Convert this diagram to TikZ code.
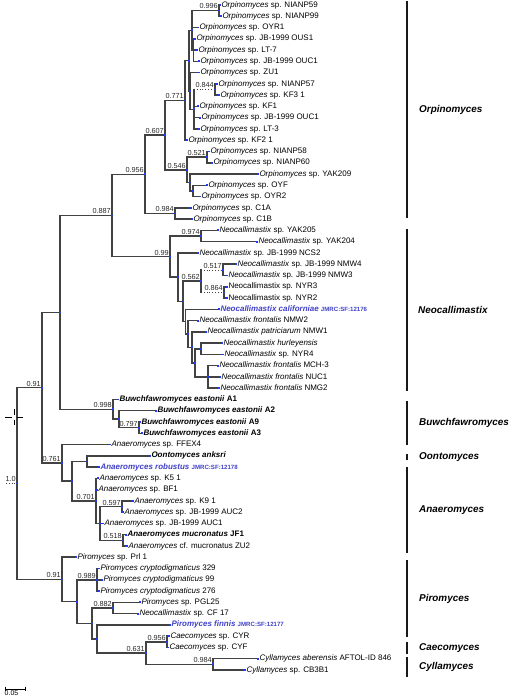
\documentclass[tikz,border=0pt]{standalone}
\usepackage{fontspec}
\setmainfont{Liberation Sans}
\usetikzlibrary{calc}
\definecolor{brc}{RGB}{66,66,66}
\definecolor{hl}{RGB}{64,64,200}
\definecolor{mkc}{RGB}{30,60,255}
\definecolor{supc}{RGB}{40,40,40}
\definecolor{barc}{RGB}{25,25,25}
\newcommand\brn[2]{\draw[brl] (#1) |- (#2);}
\newcommand\brd[2]{\draw[brl] (#1) -- (#1 |- #2); \draw[brdot] (#1 |- #2) -- (#2);}
\newcommand\jm[1]{{\fontsize{6.1}{7}\selectfont\bfseries\upshape #1}}
\begin{document}
\begin{tikzpicture}[x=1pt,y=-1pt,
  brl/.style={draw=brc,line width=1.5pt,line cap=rect},
  brdot/.style={draw=brc,line width=0.8pt,dotted},
  leaf/.style={anchor=west,inner xsep=1.3pt,inner ysep=0pt,text height=6pt,text depth=1.7pt,font=\fontsize{8.0}{9}\selectfont},
  sup/.style={anchor=base east,inner sep=0pt,xshift=-1pt,yshift=1.6pt,font=\fontsize{7.3}{8}\selectfont,text=supc},
  genus/.style={anchor=west,inner sep=0pt,font=\fontsize{9.9}{11}\selectfont\bfseries\itshape},
  bar/.style={draw=barc,line width=2.2pt},
  hlt/.style={text=hl}]
\path[use as bounding box] (0,0) rectangle (516,700);
% internal nodes
\coordinate (root) at (17,483.5);
\coordinate (rs) at (6,483.5);
\coordinate (A) at (42,387.6);
\coordinate (B) at (60,312.4);
\coordinate (C) at (112,215.5);
\coordinate (Or) at (145,174.4);
\coordinate (N607) at (165,135.2);
\coordinate (N771) at (185,100.5);
\coordinate (NX) at (189,60.7);
\coordinate (NY) at (192,30.4);
\coordinate (N996) at (219,10.6);
\coordinate (NY2) at (193.5,50.1);
\coordinate (NW) at (190,91);
\coordinate (NZ) at (194,109.3);
\coordinate (N844) at (215,89.5);
\coordinate (N546) at (187,169.9);
\coordinate (N521) at (207,157.2);
\coordinate (Noy) at (190,182.5);
\coordinate (Noo) at (193,191);
\coordinate (N984) at (175,213.5);
\coordinate (Ne) at (170,256.6);
\coordinate (N974) at (201,236);
\coordinate (NR) at (178,277.2);
\coordinate (NR2) at (183,301.4);
\coordinate (N562) at (201,281.2);
\coordinate (N517) at (223,269.9);
\coordinate (N864) at (224,292.4);
\coordinate (NR3) at (185.5,321.6);
\coordinate (NR4) at (188,334);
\coordinate (NR5) at (192,347.3);
\coordinate (NR6) at (195,362.8);
\coordinate (Nhu) at (201,348.8);
\coordinate (Nfr) at (208,376.9);
\coordinate (Bu) at (113,409.3);
\coordinate (Nb2) at (119,419.2);
\coordinate (N797) at (139,427.6);
\coordinate (An) at (62,462.9);
\coordinate (Na2) at (72,481.2);
\coordinate (Noo2) at (87,461.5);
\coordinate (N701) at (96,500.9);
\coordinate (Na3) at (100,523.5);
\coordinate (N597) at (122,506.6);
\coordinate (N518) at (123,540.4);
\coordinate (P0) at (62,579.4);
\coordinate (P1) at (77,601.6);
\coordinate (Pcr) at (97,579.8);
\coordinate (P2) at (92,623.5);
\coordinate (N882) at (113,608);
\coordinate (P3) at (97,638.9);
\coordinate (N631) at (146,653);
\coordinate (N956) at (167,641.8);
\coordinate (N984b) at (213,664.3);
% leaves
\node[leaf] (L1) at (220,5.0) {\textit{Orpinomyces} sp. NIANP59};
\node[leaf] (L2) at (221,16.3) {\textit{Orpinomyces} sp. NIANP99};
\node[leaf] (L3) at (198,27.5) {\textit{Orpinomyces} sp. OYR1};
\node[leaf] (L4) at (195,38.8) {\textit{Orpinomyces} sp. JB-1999 OUS1};
\node[leaf] (L5) at (197,50.1) {\textit{Orpinomyces} sp. LT-7};
\node[leaf] (L6) at (199,61.4) {\textit{Orpinomyces} sp. JB-1999 OUC1};
\node[leaf] (L7) at (199,72.6) {\textit{Orpinomyces} sp. ZU1};
\node[leaf] (L8) at (217,83.9) {\textit{Orpinomyces} sp. NIANP57};
\node[leaf] (L9) at (219,95.2) {\textit{Orpinomyces} sp. KF3 1};
\node[leaf] (L10) at (198,106.4) {\textit{Orpinomyces} sp. KF1};
\node[leaf] (L11) at (200,117.7) {\textit{Orpinomyces} sp. JB-1999 OUC1};
\node[leaf] (L12) at (199,129.0) {\textit{Orpinomyces} sp. LT-3};
\node[leaf] (L13) at (187,140.2) {\textit{Orpinomyces} sp. KF2 1};
\node[leaf] (L14) at (209,151.5) {\textit{Orpinomyces} sp. NIANP58};
\node[leaf] (L15) at (212,162.8) {\textit{Orpinomyces} sp. NIANP60};
\node[leaf] (L16) at (258,174.1) {\textit{Orpinomyces} sp. YAK209};
\node[leaf] (L17) at (207,185.3) {\textit{Orpinomyces} sp. OYF};
\node[leaf] (L18) at (200,196.6) {\textit{Orpinomyces} sp. OYR2};
\node[leaf] (L19) at (191,207.9) {\textit{Orpinomyces} sp. C1A};
\node[leaf] (L20) at (192,219.1) {\textit{Orpinomyces} sp. C1B};
\node[leaf] (L21) at (218,230.4) {\textit{Neocallimastix} sp. YAK205};
\node[leaf] (L22) at (257,241.7) {\textit{Neocallimastix} sp. YAK204};
\node[leaf] (L23) at (198,253.0) {\textit{Neocallimastix} sp. JB-1999 NCS2};
\node[leaf] (L24) at (236,264.2) {\textit{Neocallimastix} sp. JB-1999 NMW4};
\node[leaf] (L25) at (227,275.5) {\textit{Neocallimastix} sp. JB-1999 NMW3};
\node[leaf] (L26) at (227,286.8) {Neocallimastix sp. NYR3};
\node[leaf] (L27) at (227,298.0) {Neocallimastix sp. NYR2};
\node[leaf,hlt] (L28) at (219,309.3) {\textbf{\textit{Neocallimastix californiae}} \jm{JMRC:SF:12176}};
\node[leaf] (L29) at (198,320.6) {\textit{Neocallimastix frontalis} NMW2};
\node[leaf] (L30) at (206,331.8) {\textit{Neocallimastix patriciarum} NMW1};
\node[leaf] (L31) at (222,343.1) {\textit{Neocallimastix hurleyensis}};
\node[leaf] (L32) at (223,354.4) {\textit{Neocallimastix} sp. NYR4};
\node[leaf] (L33) at (218,365.6) {\textit{Neocallimastix frontalis} MCH-3};
\node[leaf] (L34) at (220,376.9) {\textit{Neocallimastix frontalis} NUC1};
\node[leaf] (L35) at (219,388.2) {\textit{Neocallimastix frontalis} NMG2};
\node[leaf] (L36) at (118,399.5) {\textbf{\textit{Buwchfawromyces eastonii} A1}};
\node[leaf] (L37) at (156,410.7) {\textbf{\textit{Buwchfawromyces eastonii} A2}};
\node[leaf] (L38) at (140,422.0) {\textbf{\textit{Buwchfawromyces eastonii} A9}};
\node[leaf] (L39) at (142,433.3) {\textbf{\textit{Buwchfawromyces eastonii} A3}};
\node[leaf] (L40) at (110,444.5) {\textit{Anaeromyces} sp. FFEX4};
\node[leaf] (L41) at (150,455.8) {\textbf{\textit{Oontomyces anksri}}};
\node[leaf,hlt] (L42) at (99,467.1) {\textbf{\textit{Anaeromyces robustus}} \jm{JMRC:SF:12178}};
\node[leaf] (L43) at (98,478.3) {\textit{Anaeromyces} sp. K5 1};
\node[leaf] (L44) at (97,489.6) {\textit{Anaeromyces} sp. BF1};
\node[leaf] (L45) at (133,500.9) {\textit{Anaeromyces} sp. K9 1};
\node[leaf] (L46) at (123,512.2) {\textit{Anaeromyces} sp. JB-1999 AUC2};
\node[leaf] (L47) at (103,523.4) {\textit{Anaeromyces} sp. JB-1999 AUC1};
\node[leaf] (L48) at (126,534.7) {\textbf{\textit{Anaeromyces mucronatus} JF1}};
\node[leaf] (L49) at (127,546.0) {\textit{Anaeromyces} cf. mucronatus ZU2};
\node[leaf] (L50) at (76,557.2) {\textit{Piromyces} sp. Prl 1};
\node[leaf] (L51) at (99,568.5) {\textit{Piromyces cryptodigmaticus} 329};
\node[leaf] (L52) at (102,579.8) {\textit{Piromyces cryptodigmaticus} 99};
\node[leaf] (L53) at (99,591.0) {\textit{Piromyces cryptodigmaticus} 276};
\node[leaf] (L54) at (140,602.3) {\textit{Piromyces} sp. PGL25};
\node[leaf] (L55) at (138,613.6) {\textit{Neocallimastix} sp. CF 17};
\node[leaf,hlt] (L56) at (170,624.8) {\textbf{\textit{Piromyces finnis}} \jm{JMRC:SF:12177}};
\node[leaf] (L57) at (169,636.1) {\textit{Caecomyces} sp. CYR};
\node[leaf] (L58) at (168,647.4) {\textit{Caecomyces} sp. CYF};
\node[leaf] (L59) at (258,658.7) {\textit{Cyllamyces aberensis} AFTOL-ID 846};
\node[leaf] (L60) at (245,669.9) {\textit{Cyllamyces} sp. CB3B1};
% branches
\draw[brdot] (rs) -- (root);
\brn{root}{A}\brn{root}{P0}
\brn{A}{B}\brn{A}{An}
\brn{B}{C}\brn{B}{Bu}
\brn{C}{Or}\brn{C}{Ne}
\brn{Or}{N607}\brn{Or}{N984}
\brn{N607}{N771}\brn{N607}{N546}
\brn{N771}{NX}\brn{N771}{L13.west}
\brn{NX}{NY}\brn{NX}{NW}
\brn{NY}{N996}\brn{NY}{L3.west}\brn{NY}{NY2}
\brn{N996}{L1.west}\brn{N996}{L2.west}
\brn{NY2}{L4.west}\brn{NY2}{L5.west}\brn{NY2}{L6.west}
\brn{NW}{L7.west}\brn{NW}{NZ}
\brd{NZ}{N844}\brn{NZ}{L10.west}\brn{NZ}{L11.west}\brn{NZ}{L12.west}
\brn{N844}{L8.west}\brn{N844}{L9.west}
\brn{N546}{N521}\brn{N546}{Noy}
\brn{N521}{L14.west}\brn{N521}{L15.west}
\brn{Noy}{L16.west}\brn{Noy}{Noo}
\brn{Noo}{L17.west}\brn{Noo}{L18.west}
\brn{N984}{L19.west}\brn{N984}{L20.west}
\brn{Ne}{N974}\brn{Ne}{NR}
\brn{N974}{L21.west}\brn{N974}{L22.west}
\brn{NR}{L23.west}\brn{NR}{NR2}
\brn{NR2}{N562}\brn{NR2}{NR3}
\brd{N562}{N517}\brd{N562}{N864}
\brn{N517}{L24.west}\brn{N517}{L25.west}
\brn{N864}{L26.west}\brn{N864}{L27.west}
\brn{NR3}{L28.west}\brn{NR3}{NR4}
\brn{NR4}{L29.west}\brn{NR4}{NR5}
\brn{NR5}{L30.west}\brn{NR5}{NR6}
\brn{NR6}{Nhu}\brn{NR6}{Nfr}
\brn{Nhu}{L31.west}\brn{Nhu}{L32.west}
\brn{Nfr}{L33.west}\brn{Nfr}{L34.west}\brn{Nfr}{L35.west}
\brn{Bu}{L36.west}\brn{Bu}{Nb2}
\brn{Nb2}{L37.west}\brn{Nb2}{N797}
\brn{N797}{L38.west}\brn{N797}{L39.west}
\brn{An}{L40.west}\brn{An}{Na2}
\brn{Na2}{Noo2}\brn{Na2}{N701}
\brn{Noo2}{L41.west}\brn{Noo2}{L42.west}
\brn{N701}{L43.west}\brn{N701}{L44.west}\brn{N701}{Na3}
\brn{Na3}{N597}\brn{Na3}{L47.west}\brn{Na3}{N518}
\brn{N597}{L45.west}\brn{N597}{L46.west}
\brn{N518}{L48.west}\brn{N518}{L49.west}
\brn{P0}{L50.west}\brn{P0}{P1}
\brn{P1}{Pcr}\brn{P1}{P2}
\brn{Pcr}{L51.west}\brn{Pcr}{L52.west}\brn{Pcr}{L53.west}
\brn{P2}{N882}\brn{P2}{P3}
\brn{N882}{L54.west}\brn{N882}{L55.west}
\brn{P3}{L56.west}\brn{P3}{N631}
\brn{N631}{N956}\brn{N631}{N984b}
\brn{N956}{L57.west}\brn{N956}{L58.west}
\brn{N984b}{L59.west}\brn{N984b}{L60.west}
% node marks
\foreach \n in {root,A,B,C,Or,N607,N771,NX,NY,N996,NY2,NW,NZ,N844,N546,N521,Noy,Noo,N984,Ne,N974,NR,NR2,N562,N517,N864,NR3,NR4,NR5,NR6,Nhu,Nfr,Bu,Nb2,N797,An,Na2,Noo2,N701,Na3,N597,N518,P0,P1,Pcr,P2,N882,P3,N631,N956,N984b}
  \fill[mkc] ($(\n)+(-0.9,-0.9)$) rectangle ++(1.8,1.8);
\foreach \i in {1,...,60}
  \fill[mkc] ($(L\i.west)+(-0.9,-0.9)$) rectangle ++(1.8,1.8);
% support values
\node[sup] (s1) at (root) {1.0};
\node[sup] (s2) at (A) {0.91};
\node[sup] (s3) at (C) {0.887};
\node[sup] (s4) at (Or) {0.956};
\node[sup] (s5) at (N607) {0.607};
\node[sup] (s6) at (N771) {0.771};
\node[sup] (s7) at (N996) {0.996};
\node[sup] (s8) at (N844) {0.844};
\node[sup] (s9) at (N546) {0.546};
\node[sup] (s10) at (N521) {0.521};
\node[sup] (s11) at (N984) {0.984};
\node[sup] (s12) at (Ne) {0.99};
\node[sup] (s13) at (N974) {0.974};
\node[sup] (s14) at (N562) {0.562};
\node[sup] (s15) at (N517) {0.517};
\node[sup] (s16) at (N864) {0.864};
\node[sup] (s17) at (Bu) {0.998};
\node[sup] (s18) at (N797) {0.797};
\node[sup] (s19) at (An) {0.761};
\node[sup] (s20) at (N701) {0.701};
\node[sup] (s21) at (N597) {0.597};
\node[sup] (s22) at (N518) {0.518};
\node[sup] (s23) at (P0) {0.91};
\node[sup] (s24) at (Pcr) {0.989};
\node[sup] (s25) at (N882) {0.882};
\node[sup] (s26) at (N631) {0.631};
\node[sup] (s27) at (N956) {0.956};
\node[sup] (s28) at (N984b) {0.984};
% genus bars
\coordinate (g1a) at (407,1); \coordinate (g1b) at (407,218);
\coordinate (g2a) at (407,229); \coordinate (g2b) at (407,391);
\coordinate (g3a) at (407,401); \coordinate (g3b) at (407,445);
\coordinate (g4a) at (407,454); \coordinate (g4b) at (407,460);
\coordinate (g5a) at (407,467); \coordinate (g5b) at (407,553);
\coordinate (g6a) at (407,560); \coordinate (g6b) at (407,637);
\coordinate (g7a) at (407,642); \coordinate (g7b) at (407,654);
\coordinate (g8a) at (407,657); \coordinate (g8b) at (407,677);
\draw[bar] (g1a) -- (g1b); \draw[bar] (g2a) -- (g2b);
\draw[bar] (g3a) -- (g3b); \draw[bar] (g4a) -- (g4b);
\draw[bar] (g5a) -- (g5b); \draw[bar] (g6a) -- (g6b);
\draw[bar] (g7a) -- (g7b); \draw[bar] (g8a) -- (g8b);
\node[genus] (G1) at (419,109.5) {Orpinomyces};
\node[genus] (G2) at (418,310) {Neocallimastix};
\node[genus] (G3) at (419,423) {Buwchfawromyces};
\node[genus] (G4) at (419,457.5) {Oontomyces};
\node[genus] (G5) at (419,510) {Anaeromyces};
\node[genus] (G6) at (419,598.5) {Piromyces};
\node[genus] (G7) at (419,648) {Caecomyces};
\node[genus] (G8) at (419,667) {Cyllamyces};
% cursor cross
\coordinate (cx) at (14,417);
\draw[black,line width=0.7pt] ($(cx)+(-9,0)$) -- ($(cx)+(-2.5,0)$) ($(cx)+(2.5,0)$) -- ($(cx)+(9,0)$)
  ($(cx)+(0,-8)$) -- ($(cx)+(0,-2.5)$) ($(cx)+(0,2.5)$) -- ($(cx)+(0,8)$);
% scale bar
\coordinate (sb1) at (5,689); \coordinate (sb2) at (25.5,689);
\draw[black,line width=0.8pt] (sb1) -- (sb2);
\draw[black,line width=0.8pt] ($(sb1)+(0,-2.5)$) -- ($(sb1)+(0,1.5)$);
\draw[black,line width=0.8pt] ($(sb2)+(0,-2.5)$) -- ($(sb2)+(0,1.5)$);
\node[anchor=north west,inner sep=0pt,font=\fontsize{7}{8}\selectfont] (sbl) at (4.5,690) {0.05};
\end{tikzpicture}
\end{document}
